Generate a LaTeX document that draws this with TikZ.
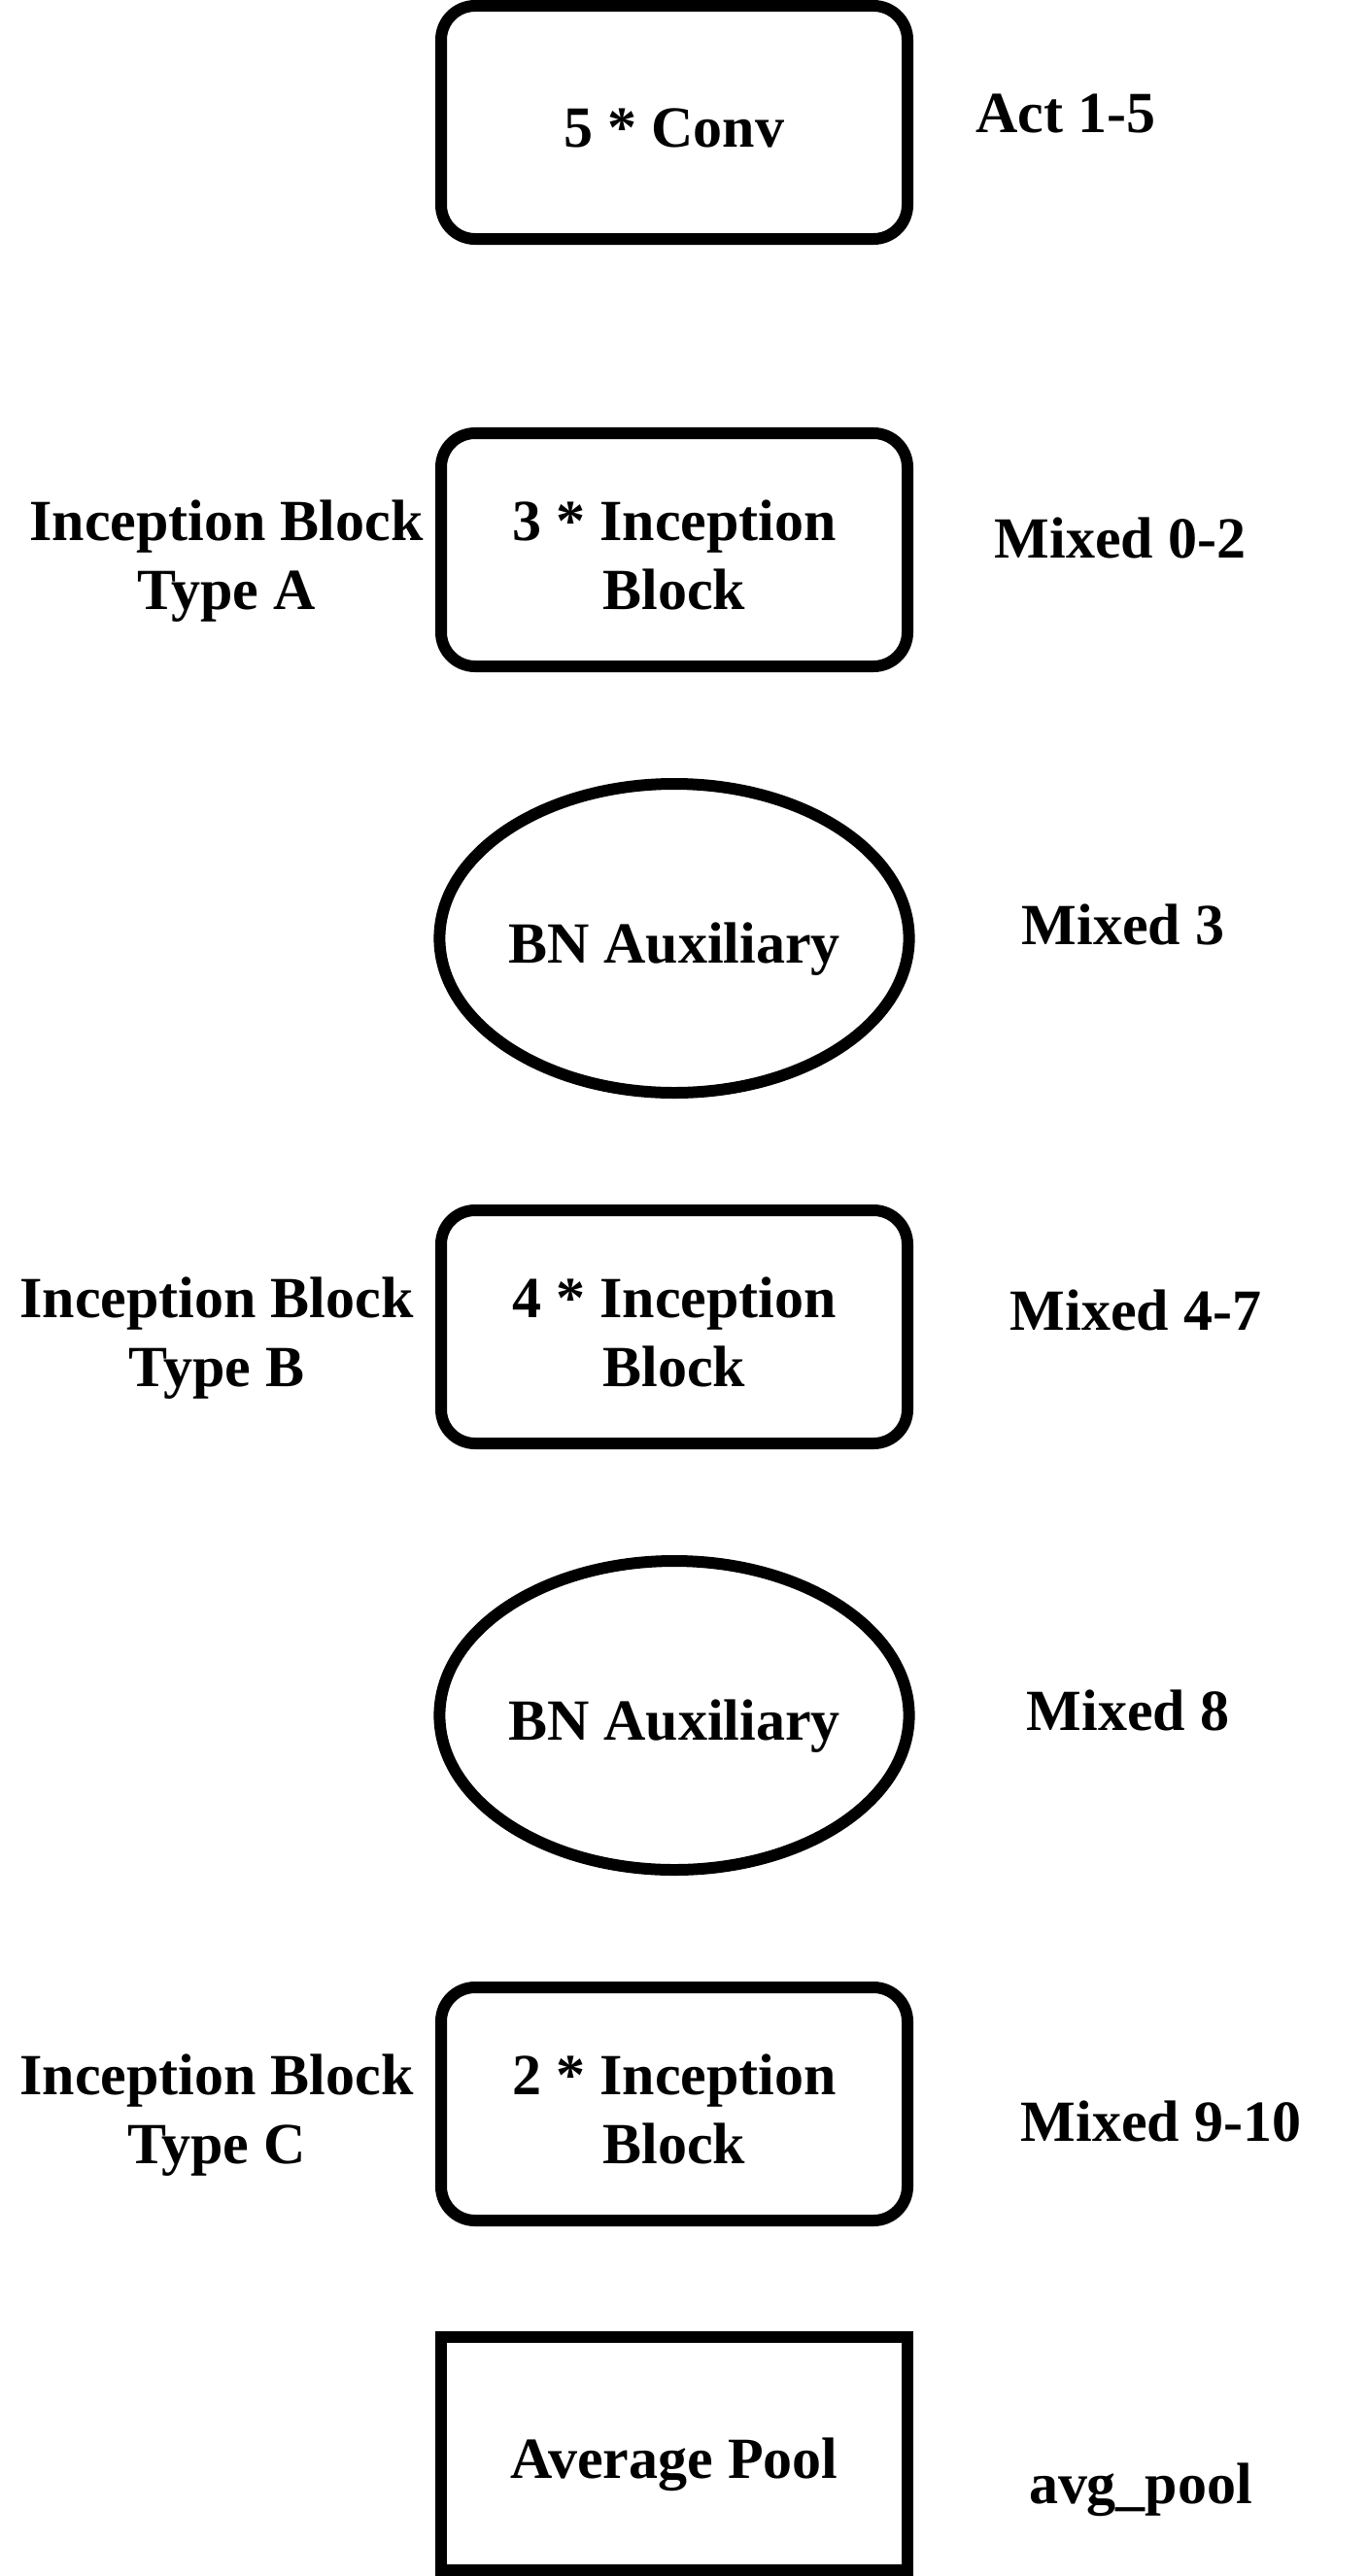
\documentclass[tikz,border=0pt]{standalone}
\usepackage{fontspec}
\setmainfont{Liberation Serif}
\usetikzlibrary{shapes.geometric}

\begin{document}
\begin{tikzpicture}[scale=0.2,
  lbl/.style={font=\fontsize{34.14pt}{40.4pt}\selectfont\bfseries, align=center},
  oneline/.style={text height=32.4pt, text depth=2.85pt},
  twoline/.style={text height=72.84pt, text depth=2.85pt},
  blockbox/.style={lbl, draw=black, line width=6.83pt, rounded corners=0.7cm, minimum width=9.6cm, minimum height=4.8cm},
  poolbox/.style={blockbox, sharp corners},
  auxnode/.style={lbl, draw=black, line width=6.83pt, ellipse, minimum width=9.6cm, minimum height=6.36cm}]
\tikzstyle{every node}+=[inner sep=0pt]
\useasboundingbox (0,0) rectangle (140.8,-265.2);
\node [blockbox, oneline] (conv) at (69.4,-12.6) {5 * Conv};
\node [blockbox, twoline] (incA) at (69.4,-56.6) {3 * Inception\\Block};
\node [auxnode, oneline] (aux1) at (69.4,-96.6) {BN Auxiliary};
\node [blockbox, twoline] (incB) at (69.4,-136.6) {4 * Inception\\Block};
\node [auxnode, oneline] (aux2) at (69.4,-176.6) {BN Auxiliary};
\node [blockbox, twoline] (incC) at (69.4,-216.6) {2 * Inception\\Block};
\node [poolbox, oneline] (pool) at (69.4,-252.6) {Average Pool};
\node [lbl, twoline] (typeA) at (23.3,-56.6) {Inception Block\\Type A};
\node [lbl, twoline] (typeB) at (22.3,-136.6) {Inception Block\\Type B};
\node [lbl, twoline] (typeC) at (22.3,-216.6) {Inception Block\\Type C};
\node [lbl, anchor=base] (act) at (109.7,-13.7) {Act 1-5};
\node [lbl, anchor=base] (mixA) at (115.3,-57.4) {Mixed 0-2};
\node [lbl, anchor=base] (mix3) at (115.6,-97.2) {Mixed 3};
\node [lbl, anchor=base] (mixB) at (116.9,-136.9) {Mixed 4-7};
\node [lbl, anchor=base] (mix8) at (116.1,-178.1) {Mixed 8};
\node [lbl, anchor=base] (mixC) at (119.5,-220.4) {Mixed 9-10};
\node [lbl, anchor=base] (avg) at (117.4,-257.7) {avg\_pool};
\end{tikzpicture}
\end{document}
